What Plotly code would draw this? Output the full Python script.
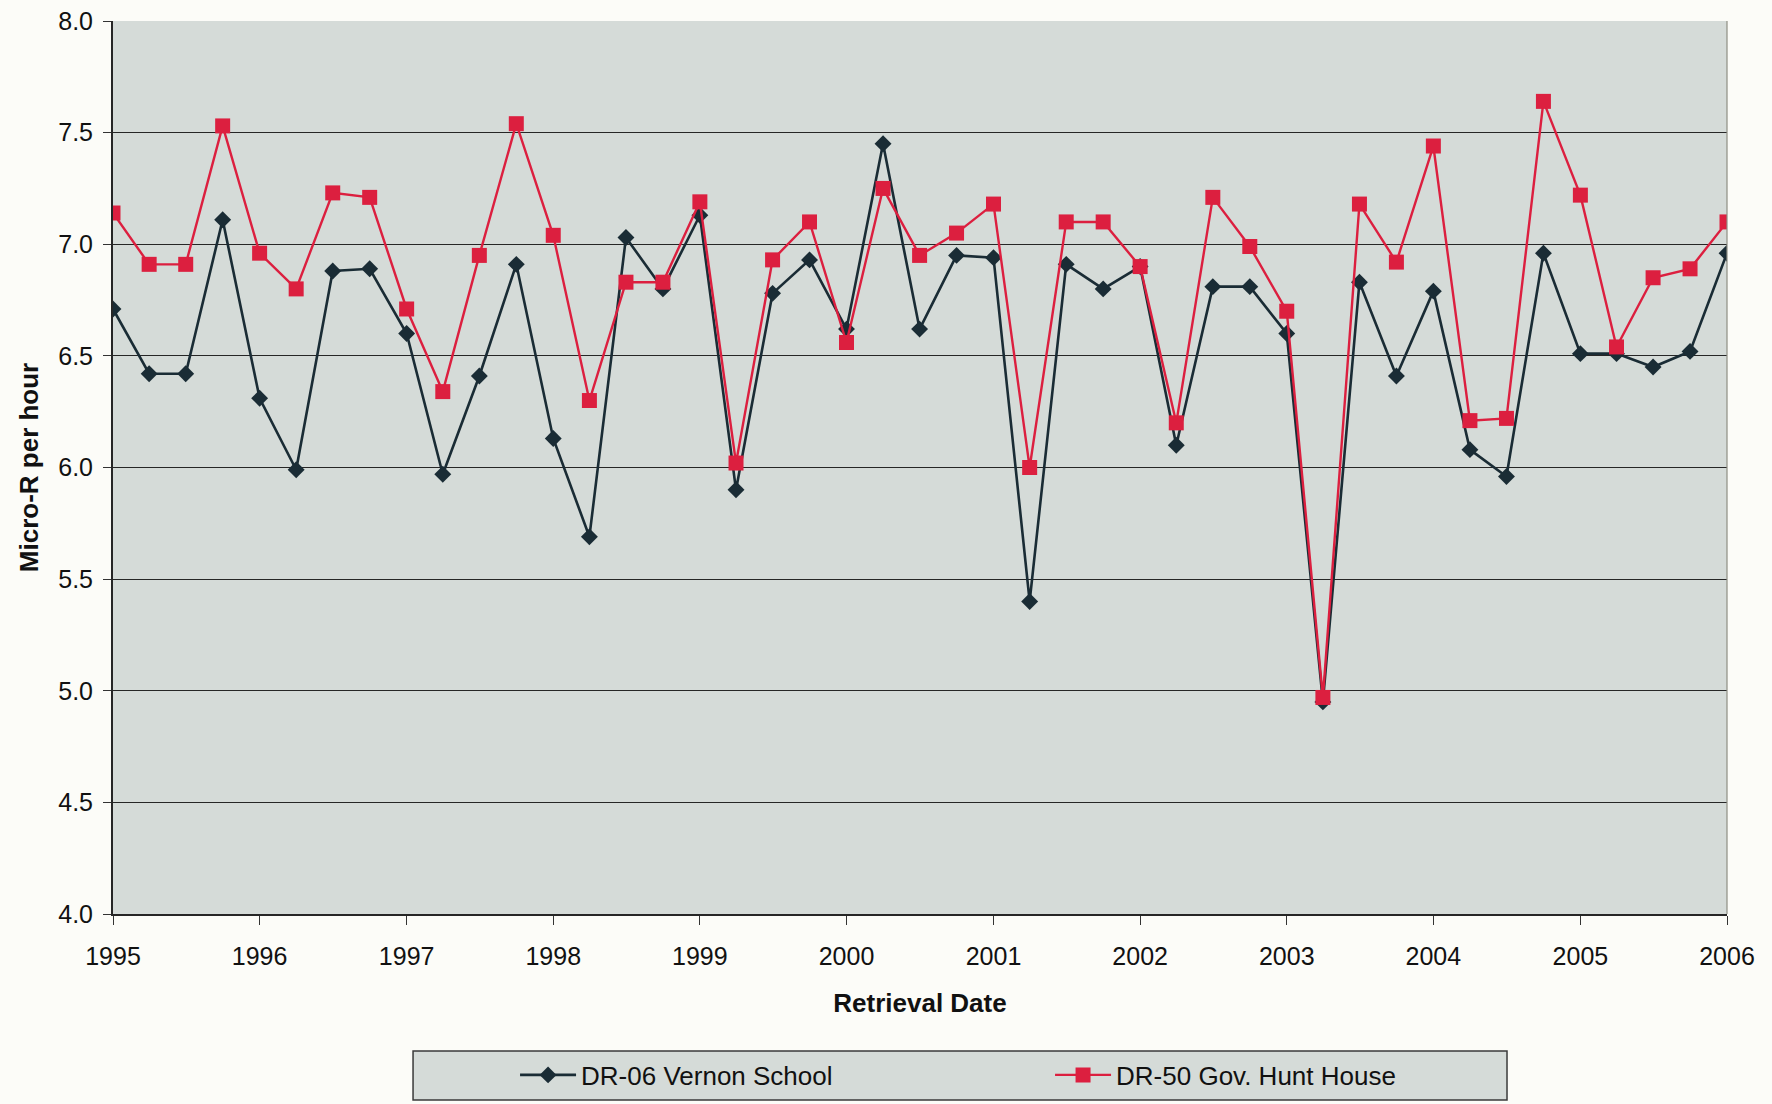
import plotly.graph_objects as go

# Quarterly retrieval dates of the dosimeters
retrieval_dates = [
    "1995-01-01", "1995-04-01", "1995-07-01", "1995-10-01",
    "1996-01-01", "1996-04-01", "1996-07-01", "1996-10-01",
    "1997-01-01", "1997-04-01", "1997-07-01", "1997-10-01",
    "1998-01-01", "1998-04-01", "1998-07-01", "1998-10-01",
    "1999-01-01", "1999-04-01", "1999-07-01", "1999-10-01",
    "2000-01-01", "2000-04-01", "2000-07-01", "2000-10-01",
    "2001-01-01", "2001-04-01", "2001-07-01", "2001-10-01",
    "2002-01-01", "2002-04-01", "2002-07-01", "2002-10-01",
    "2003-01-01", "2003-04-01", "2003-07-01", "2003-10-01",
    "2004-01-01", "2004-04-01", "2004-07-01", "2004-10-01",
    "2005-01-01", "2005-04-01", "2005-07-01", "2005-10-01",
    "2006-01-01",
]

# Micro-R per hour
vernon_school = [
    6.71, 6.42, 6.42, 7.11, 6.31, 5.99, 6.88, 6.89, 6.60, 5.97, 6.41, 6.91,
    6.13, 5.69, 7.03, 6.80, 7.13, 5.90, 6.78, 6.93, 6.62, 7.45, 6.62, 6.95,
    6.94, 5.40, 6.91, 6.80, 6.90, 6.10, 6.81, 6.81, 6.60, 4.95, 6.83, 6.41,
    6.79, 6.08, 5.96, 6.96, 6.51, 6.51, 6.45, 6.52, 6.96,
]
gov_hunt_house = [
    7.14, 6.91, 6.91, 7.53, 6.96, 6.80, 7.23, 7.21, 6.71, 6.34, 6.95, 7.54,
    7.04, 6.30, 6.83, 6.83, 7.19, 6.02, 6.93, 7.10, 6.56, 7.25, 6.95, 7.05,
    7.18, 6.00, 7.10, 7.10, 6.90, 6.20, 7.21, 6.99, 6.70, 4.97, 7.18, 6.92,
    7.44, 6.21, 6.22, 7.64, 7.22, 6.54, 6.85, 6.89, 7.10,
]

series_names = ["DR-06 Vernon School", "DR-50 Gov. Hunt House"]
y_ticks = [4.0, 4.5, 5.0, 5.5, 6.0, 6.5, 7.0, 7.5, 8.0]

FONT = "Liberation Sans, Arial, sans-serif"
NAVY = "#1a2c35"
RED = "#dc1f3f"
PLOT_BG = "#d5dbd8"

fig = go.Figure()
fig.add_trace(go.Scatter(
    x=retrieval_dates, y=vernon_school, name=series_names[0],
    mode="lines+markers",
    line=dict(color=NAVY, width=2.6),
    marker=dict(symbol="diamond", size=13, color=NAVY),
))
fig.add_trace(go.Scatter(
    x=retrieval_dates, y=gov_hunt_house, name=series_names[1],
    mode="lines+markers",
    line=dict(color=RED, width=2.4),
    marker=dict(symbol="square", size=15, color=RED),
))

# legend frame
fig.add_shape(type="rect", xref="paper", yref="paper",
              x0=0.1859, x1=0.8637, y0=-0.2083, y1=-0.1534,
              fillcolor=PLOT_BG, line=dict(color="#3a3a3a", width=1.5),
              layer="below")
# light border on the right side of the plot area
fig.add_shape(type="line", xref="paper", yref="paper",
              x0=1, x1=1, y0=0, y1=1,
              line=dict(color="#8e8e84", width=1.2))

fig.update_layout(
    width=1772, height=1104,
    margin=dict(l=113, r=45, t=21, b=190, autoexpand=False),
    paper_bgcolor="#fcfcf8",
    plot_bgcolor=PLOT_BG,
    font=dict(family=FONT, size=25, color="#111111"),
    showlegend=True,
    legend=dict(
        orientation="h",
        x=0.2491, xanchor="left",
        y=-0.1803, yanchor="middle",
        bgcolor="rgba(0,0,0,0)", borderwidth=0,
        itemwidth=56, entrywidth=464,
        font=dict(family=FONT, size=26, color="#111111"),
    ),
    xaxis=dict(
        type="date",
        range=["1995-01-01", "2006-01-01"],
        dtick="M12", tick0="1995-01-01", tickformat="%Y",
        ticks="outside", ticklen=9, tickwidth=1.2, tickcolor="#333333",
        ticklabelstandoff=10,
        showgrid=False, zeroline=False,
        showline=True, linecolor="#262626", linewidth=2,
        tickfont=dict(size=25),
        automargin=False,
        title=dict(text="<b>Retrieval Date</b>", standoff=25,
                   font=dict(size=26)),
    ),
    yaxis=dict(
        range=[4.0, 8.0],
        tickvals=y_ticks, ticktext=[f"{v:.1f}" for v in y_ticks],
        ticks="outside", ticklen=8, tickwidth=1.2, tickcolor="#333333",
        ticklabelstandoff=5,
        showgrid=True, gridcolor="#262626", gridwidth=1.3,
        zeroline=False,
        showline=True, linecolor="#262626", linewidth=2,
        tickfont=dict(size=25),
        automargin=False,
        title=dict(text="<b>Micro-R per hour</b>", standoff=12,
                   font=dict(size=26)),
    ),
)

fig.write_html("out.html")
